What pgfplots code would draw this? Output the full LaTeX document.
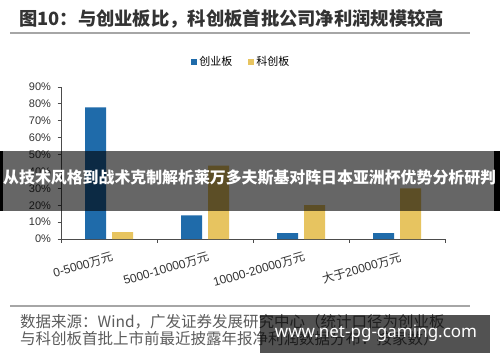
\documentclass[border=0pt]{standalone}
\usepackage{pgfplots}
\pgfplotsset{compat=1.18}
\usepackage{fontspec}
\setmainfont{Liberation Sans}
\newfontfamily\cjk{Noto Sans CJK SC}
\newfontfamily\wm{Noto Sans}
\definecolor{cyb}{HTML}{1F6BAA}
\definecolor{kcb}{HTML}{E7C460}
\definecolor{txt}{HTML}{333333}
\begin{document}
\begin{tikzpicture}[x=1pt,y=1pt]
\useasboundingbox[fill=white] (0,0) rectangle (500,362);
% title
\node[anchor=west,text=txt,inner sep=0] at (19,343) {\cjk\bfseries\fontsize{18.3}{18.3}\selectfont 图10：与创业板比，科创板首批公司净利润规模较高};
\draw[gray!70,line width=1.5pt] (10,329) -- (470,329);
\begin{axis}[
  at={(61pt,123pt)}, anchor=south west,
  scale only axis, width=384pt, height=152pt,
  ybar=6pt, bar width=21pt,
  xmin=-0.5, xmax=3.5, ymin=0, ymax=90,
  axis x line*=bottom, axis y line*=left,
  axis line style={gray!60!black, line width=0.8pt},
  ytick={0,10,...,90},
  yticklabel={\pgfmathprintnumber{\tick}\%},
  yticklabel style={font=\fontsize{11}{11}\selectfont, text=txt, xshift=-3pt},
  /pgf/number format/assume math mode=true,
  xtick={0,1,2,3},
  xticklabels={0-5000{\cjk 万元},5000-10000{\cjk 万元},10000-20000{\cjk 万元},{\cjk 大于}20000{\cjk 万元}},
  xtick style={draw=none},
  xticklabel style={rotate=16, anchor=north east, font=\fontsize{12}{12}\selectfont, text=txt, yshift=-6pt, xshift=3pt},
  extra x ticks={-0.5,0.5,1.5,2.5,3.5},
  extra x tick labels={},
  extra x tick style={xtick style={draw=gray!60!black, line width=0.8pt}},
  tick align=outside, major tick length=3.5pt,
  ytick style={draw=gray!60!black, line width=0.8pt},
  legend style={at={(0.47,1.165)}, anchor=center, draw=none, fill=none,
    legend columns=2, font=\cjk\fontsize{11}{11}\selectfont,
    /tikz/every even column/.append style={column sep=14pt}},
  legend image code/.code={\fill[#1] (0pt,-3pt) rectangle (6pt,3pt);},
]
\addplot[fill=cyb, draw=none] coordinates {(0,78) (1,14) (2,3.5) (3,3.5)};
\addplot[fill=kcb, draw=none] coordinates {(0,4) (1,43.5) (2,20) (3,30)};
\legend{创业板,科创板}
\end{axis}
% bottom line and source
\draw[gray!70,line width=1.5pt] (10,56) -- (470,56);
\node[anchor=west,text=txt!80,inner sep=0] at (20,40.5) {\cjk\fontsize{15.5}{15.5}\selectfont 数据来源：Wind，广发证券发展研究中心（统计口径为创业板};
\node[anchor=west,text=txt!80,inner sep=0] at (20,23.5) {\cjk\fontsize{15.5}{15.5}\selectfont 与科创板首批上市前最近披露年报净利润数据分布：按家数）};
% overlay banner
\fill[black,opacity=0.6] (0,151) rectangle (494,211);
\fill[black] (494,151) rectangle (500,211);
\fill[black] (0,151) rectangle (2.5,211);
\node[anchor=west,text=white,inner sep=0] at (3,184) {\cjk\bfseries\fontsize{15.9}{15.9}\selectfont 从技术风格到战术克制解析莱万多夫斯基对阵日本亚洲杯优势分析研判};
% watermark
\fill[black,opacity=0.68] (260,9) rectangle (490,47);
\node[text=white,inner sep=0] at (376,29) {\wm\bfseries\fontsize{17}{17}\selectfont www.net-pg-gaming.com};
\end{tikzpicture}
\end{document}
